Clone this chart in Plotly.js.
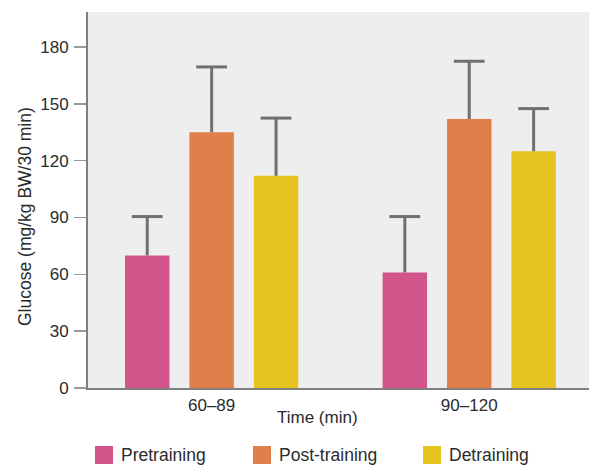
<!DOCTYPE html>
<html>
<head>
<meta charset="utf-8">
<script src="https://cdn.plot.ly/plotly-3.0.1.min.js"></script>
<style>
  html, body { margin: 0; padding: 0; background: #ffffff; }
  #chart { width: 589px; height: 466px; }
</style>
</head>
<body>
<div id="chart"></div>
<script>
// Glucose response by time window for the three training phases
const timeWindows = ['60–89', '90–120'];
const phaseNames = ['Pretraining', 'Post-training', 'Detraining'];
const pretraining = [70, 61];
const postTraining = [135, 142];
const detraining = [112, 125];
const pretrainingErr = [20.5, 29.5];
const postTrainingErr = [34.5, 30.5];
const detrainingErr = [30.5, 22.5];
const yTicks = [0, 30, 60, 90, 120, 150, 180];

const phaseColors = ['#d1558b', '#e07f4a', '#e6c31f'];
const FONT = '"Liberation Sans", Arial, sans-serif';
const TEXT = '#2b2b2b';
const AXIS = '#808080';
const ERR = '#707070';

const seriesValues = [pretraining, postTraining, detraining];
const seriesErrors = [pretrainingErr, postTrainingErr, detrainingErr];

// Bars with an upward error stem (no caps)
const barTraces = phaseNames.map((name, i) => ({
  type: 'bar',
  name: name,
  x: timeWindows,
  y: seriesValues[i],
  offsetgroup: 'g' + i,
  marker: { color: phaseColors[i], line: { width: 0 } },
  error_y: {
    type: 'data',
    symmetric: false,
    array: seriesErrors[i],
    arrayminus: seriesValues[i].map(() => 0),
    color: ERR,
    thickness: 3,
    width: 0
  },
  showlegend: false,
  hoverinfo: 'x+y'
}));

// Caps only at the upper end of each error bar
const capTraces = phaseNames.map((name, i) => ({
  type: 'scatter',
  mode: 'markers',
  name: name + ' SE',
  x: timeWindows,
  y: seriesValues[i].map((v, j) => v + seriesErrors[i][j]),
  offsetgroup: 'g' + i,
  marker: { symbol: 'line-ew', size: 22, color: ERR, line: { color: ERR, width: 3 } },
  showlegend: false,
  hoverinfo: 'skip'
}));

// Legend drawn as coloured squares with labels beneath the plot
const legendX = [95, 253, 423];
const legendShapes = phaseNames.map((n, i) => ({
  type: 'rect', xref: 'paper', yref: 'paper',
  x0: (legendX[i] - 88) / 501, x1: (legendX[i] + 18 - 88) / 501,
  y0: (388 - 464) / 376, y1: (388 - 446) / 376,
  fillcolor: phaseColors[i], line: { width: 0 }
}));
const legendLabels = phaseNames.map((n, i) => ({
  text: n, xref: 'paper', yref: 'paper',
  x: (legendX[i] + 24 - 88) / 501, y: (388 - 455) / 376,
  xanchor: 'left', yanchor: 'middle', showarrow: false,
  font: { family: FONT, size: 17.5, color: TEXT }
}));

const layout = {
  width: 589,
  height: 466,
  margin: { l: 88, r: 0, t: 12, b: 78 },
  paper_bgcolor: '#ffffff',
  plot_bgcolor: '#eeeeee',
  barmode: 'group',
  bargap: 0.25,
  bargroupgap: 0.31,
  scattermode: 'group',
  scattergap: 0.25,
  font: { family: FONT, size: 17, color: TEXT },
  xaxis: {
    type: 'category',
    range: [-0.48, 1.465],
    showgrid: false,
    zeroline: false,
    showline: true,
    linecolor: AXIS,
    linewidth: 2,
    ticks: '',
    ticklabelstandoff: 1,
    tickfont: { family: FONT, size: 17, color: TEXT },
    fixedrange: true
  },
  yaxis: {
    range: [0, 198.5],
    tickvals: yTicks,
    ticktext: yTicks.map(String),
    showgrid: false,
    zeroline: false,
    showline: true,
    linecolor: AXIS,
    linewidth: 2,
    ticks: 'outside',
    ticklen: 12,
    tickwidth: 1.5,
    tickcolor: '#999999',
    ticklabelstandoff: 2,
    tickfont: { family: FONT, size: 17, color: TEXT },
    fixedrange: true
  },
  shapes: legendShapes,
  annotations: [
    {
      text: 'Time (min)', xref: 'paper', yref: 'paper',
      x: (317 - 88) / 501, y: (388 - 417) / 376,
      xanchor: 'center', yanchor: 'middle', showarrow: false,
      font: { family: FONT, size: 17, color: TEXT }
    },
    {
      text: 'Glucose (mg/kg BW/30 min)', xref: 'paper', yref: 'paper',
      x: (25 - 88) / 501, y: (388 - 217) / 376,
      xanchor: 'center', yanchor: 'middle', textangle: -90, showarrow: false,
      font: { family: FONT, size: 17.5, color: TEXT }
    }
  ].concat(legendLabels)
};

Plotly.newPlot('chart', barTraces.concat(capTraces), layout, { staticPlot: true, displayModeBar: false });
</script>
</body>
</html>
